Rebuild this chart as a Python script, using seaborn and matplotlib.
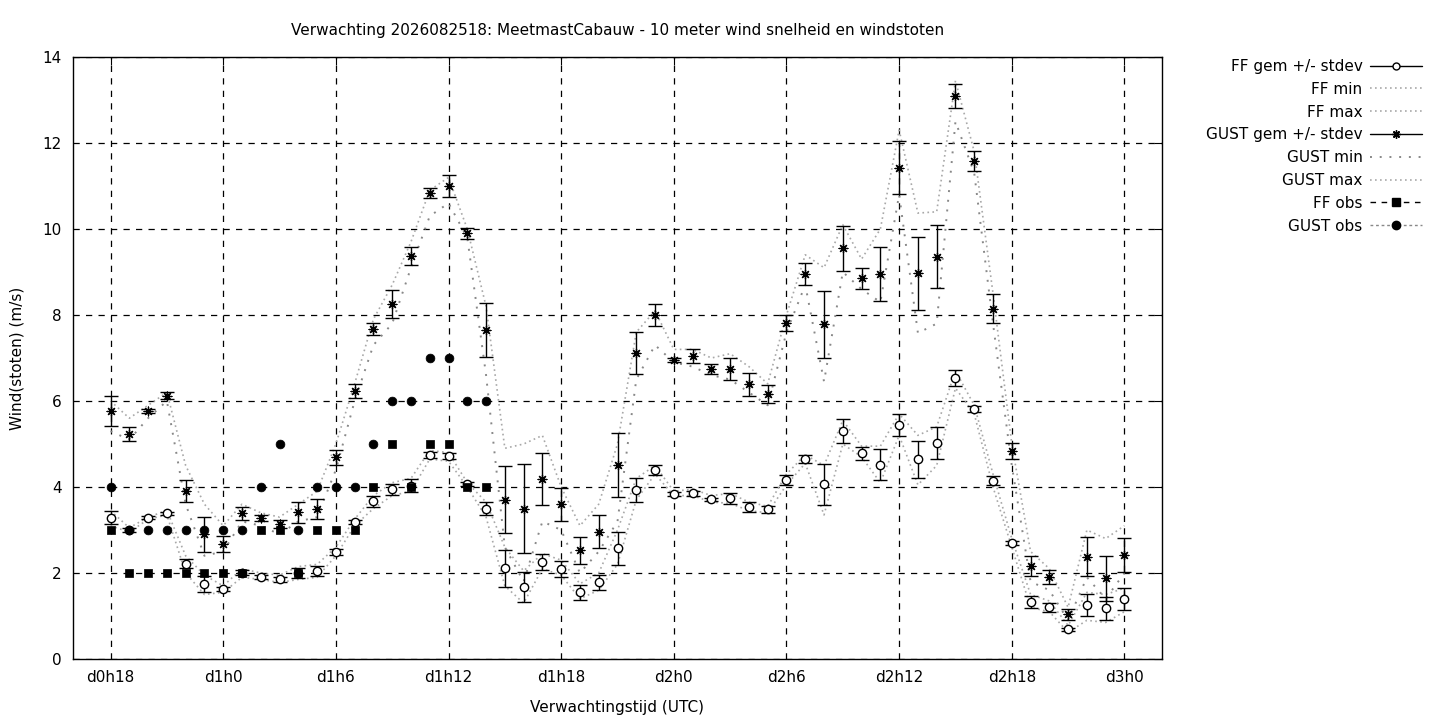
"""
Verwachting van wind snelheid en windstoten bij MeetmastCabauw,
nagetekend met seaborn / matplotlib.
"""

import matplotlib
matplotlib.use('Agg')
import matplotlib.pyplot as plt
from matplotlib.lines import Line2D
import seaborn as sns
import pandas as pd

# uren vanaf d0h0, elk uur van d0h18 tot d3h0
hours = list(range(18, 73))

ff_mean = [3.29, 3.0, 3.29, 3.39, 2.22, 1.74, 1.63, 2.01, 1.91, 1.85, 2.0,
           2.05, 2.49, 3.18, 3.67, 3.95, 4.03, 4.74, 4.72, 4.07, 3.50, 2.11,
           1.68, 2.25, 2.09, 1.55, 1.78, 2.57, 3.93, 4.40, 3.83, 3.85, 3.71,
           3.74, 3.54, 3.48, 4.16, 4.65, 4.06, 5.30, 4.78, 4.52, 5.44, 4.64,
           5.02, 6.53, 5.81, 4.15, 2.69, 1.33, 1.20, 0.69, 1.26, 1.18, 1.39]
ff_sd = [0.15, 0.05, 0.04, 0.04, 0.10, 0.18, 0.05, 0.06, 0.04, 0.05, 0.12,
         0.12, 0.06, 0.05, 0.13, 0.13, 0.15, 0.07, 0.07, 0.05, 0.14, 0.43,
         0.35, 0.19, 0.18, 0.17, 0.18, 0.39, 0.27, 0.12, 0.05, 0.05, 0.04,
         0.13, 0.12, 0.08, 0.12, 0.10, 0.48, 0.28, 0.15, 0.36, 0.26, 0.43,
         0.38, 0.18, 0.07, 0.10, 0.05, 0.14, 0.10, 0.04, 0.26, 0.27, 0.25]
ff_min = [3.10, 2.95, 3.25, 3.35, 2.00, 1.50, 1.55, 1.90, 1.85, 1.78, 1.85,
          1.90, 2.40, 3.10, 3.50, 3.80, 3.90, 4.65, 4.60, 4.00, 3.30, 1.70,
          1.30, 2.10, 1.95, 1.40, 1.60, 2.20, 3.70, 4.30, 3.80, 3.80, 3.65,
          3.62, 3.45, 3.40, 4.05, 4.55, 3.35, 5.00, 4.70, 4.10, 5.20, 4.05,
          4.50, 6.30, 5.70, 4.00, 2.60, 1.20, 1.10, 0.62, 0.90, 0.85, 1.10]
ff_max = [3.45, 3.05, 3.30, 3.45, 2.40, 1.95, 1.70, 2.10, 2.00, 1.95, 2.15,
          2.20, 2.60, 3.25, 3.80, 4.10, 4.20, 4.85, 4.80, 4.10, 3.65, 2.60,
          2.05, 2.45, 2.30, 1.75, 2.00, 3.00, 4.20, 4.50, 3.90, 3.95, 3.80,
          3.85, 3.65, 3.55, 4.30, 4.75, 4.50, 5.55, 4.95, 4.95, 5.70, 5.20,
          5.40, 6.70, 5.90, 4.30, 2.80, 1.50, 1.35, 0.78, 1.55, 1.50, 1.65]

gust_mean = [5.77, 5.23, 5.77, 6.12, 3.91, 2.90, 2.68, 3.39, 3.28, 3.14,
             3.41, 3.48, 4.69, 6.23, 7.67, 8.26, 9.37, 10.83, 11.0, 9.90,
             7.65, 3.70, 3.50, 4.19, 3.60, 2.53, 2.96, 4.51, 7.11, 8.00,
             6.95, 7.05, 6.74, 6.74, 6.39, 6.16, 7.81, 8.95, 7.78, 9.55,
             8.85, 8.95, 11.43, 8.97, 9.36, 13.09, 11.58, 8.15, 4.84, 2.16,
             1.90, 1.04, 2.38, 1.88, 2.42]
gust_sd = [0.35, 0.16, 0.05, 0.08, 0.26, 0.40, 0.18, 0.15, 0.08, 0.10, 0.25,
           0.23, 0.18, 0.17, 0.14, 0.33, 0.21, 0.12, 0.26, 0.13, 0.62, 0.78,
           1.03, 0.61, 0.38, 0.31, 0.39, 0.75, 0.49, 0.26, 0.05, 0.16, 0.12,
           0.26, 0.27, 0.21, 0.18, 0.25, 0.78, 0.52, 0.24, 0.62, 0.62, 0.85,
           0.74, 0.28, 0.23, 0.33, 0.18, 0.23, 0.16, 0.13, 0.45, 0.52, 0.40]
gust_min = [5.30, 5.10, 5.60, 6.00, 3.60, 2.40, 2.50, 3.20, 3.10, 2.90, 3.20,
            3.30, 4.40, 6.00, 7.30, 7.80, 9.10, 10.30, 10.60, 9.80, 6.60,
            2.60, 1.80, 3.20, 3.00, 2.00, 2.50, 3.20, 6.50, 7.30, 6.90, 6.80,
            6.60, 6.50, 6.20, 5.90, 7.60, 8.70, 6.45, 9.00, 8.60, 8.30,
            10.80, 7.58, 7.80, 12.50, 11.30, 7.80, 4.50, 1.80, 1.60, 0.90,
            1.90, 1.40, 2.00]
gust_max = [6.00, 5.60, 5.90, 6.20, 4.50, 3.60, 3.10, 3.60, 3.40, 3.30, 3.60,
            3.90, 5.00, 6.40, 7.90, 8.70, 9.70, 10.90, 11.20, 10.00, 8.20,
            4.90, 5.00, 5.20, 4.00, 3.10, 3.60, 5.00, 7.60, 8.10, 7.20, 7.20,
            7.00, 7.10, 6.80, 6.40, 8.00, 9.40, 9.10, 10.10, 9.30, 10.00,
            12.30, 10.37, 10.40, 13.45, 11.80, 8.50, 5.00, 2.50, 2.10, 1.20,
            3.00, 2.80, 3.10]

# waarnemingen, van d0h18 tot d1h14
obs_hours = list(range(18, 39))
ff_obs = [3, 2, 2, 2, 2, 2, 2, 2, 3, 3, 2, 3, 3, 3, 4, 5, 4, 5, 5, 4, 4]
gust_obs = [4, 3, 3, 3, 3, 3, 3, 3, 4, 5, 3, 4, 4, 4, 5, 6, 6, 7, 7, 6, 6]

tick_hours = [18, 24, 30, 36, 42, 48, 54, 60, 66, 72]
tick_labels = ['d0h18', 'd1h0', 'd1h6', 'd1h12', 'd1h18',
               'd2h0', 'd2h6', 'd2h12', 'd2h18', 'd3h0']

fc = pd.DataFrame({'uur': hours, 'ff_mean': ff_mean, 'ff_sd': ff_sd,
                   'ff_min': ff_min, 'ff_max': ff_max,
                   'gust_mean': gust_mean, 'gust_sd': gust_sd,
                   'gust_min': gust_min, 'gust_max': gust_max})
obs = pd.DataFrame({'uur': obs_hours, 'ff_obs': ff_obs,
                    'gust_obs': gust_obs})

sns.set_style('white')
plt.rcParams['font.family'] = ['DejaVu Sans']
plt.rcParams['font.size'] = 11
plt.rcParams['text.color'] = 'black'
plt.rcParams['axes.labelcolor'] = 'black'
plt.rcParams['xtick.color'] = 'black'
plt.rcParams['ytick.color'] = 'black'

fig = plt.figure(figsize=(14.4, 7.2), dpi=100)
ax = fig.add_axes([73 / 1440, 61 / 720, 1089 / 1440, 602 / 720])

GREY = '#a8a8a8'
dot_fine = (0, (1, 2))
dot_wide = (0, (1, 4))

# min / max lijnen
sns.lineplot(data=fc, x='uur', y='ff_min', ax=ax, color=GREY, lw=1.2,
             linestyle=dot_fine)
sns.lineplot(data=fc, x='uur', y='ff_max', ax=ax, color=GREY, lw=1.2,
             linestyle=dot_fine)
sns.lineplot(data=fc, x='uur', y='gust_min', ax=ax, color='#888888', lw=1.4,
             linestyle=dot_wide)
sns.lineplot(data=fc, x='uur', y='gust_max', ax=ax, color=GREY, lw=1.2,
             linestyle=dot_fine)

# gemiddelde +/- stdev
ax.errorbar(fc['uur'], fc['ff_mean'], yerr=fc['ff_sd'], fmt='o',
            mfc='white', mec='black', ms=6, mew=1, ecolor='black',
            elinewidth=1, capsize=5, capthick=1, zorder=4)
ax.errorbar(fc['uur'], fc['gust_mean'], yerr=fc['gust_sd'], fmt='none',
            ecolor='black', elinewidth=1, capsize=5, capthick=1, zorder=4)
sns.scatterplot(data=fc, x='uur', y='gust_mean', ax=ax, marker=(8, 2, 0),
                s=40, color='black', linewidth=0.9, zorder=5)

# waarnemingen
sns.scatterplot(data=obs, x='uur', y='ff_obs', ax=ax, marker='s', s=40,
                color='black', edgecolor='black', zorder=6)
sns.scatterplot(data=obs, x='uur', y='gust_obs', ax=ax, marker='o', s=40,
                color='black', edgecolor='black', zorder=6)

ax.set_xlim(16, 74)
ax.set_ylim(0, 14)
ax.set_xticks(tick_hours)
ax.set_xticklabels(tick_labels)
ax.set_yticks(range(0, 15, 2))
ax.grid(True, color='black', linestyle=(0, (5, 5)), linewidth=0.9)
ax.tick_params(direction='in', top=True, right=True, length=6,
               labelsize=11, pad=8)
for sp in ax.spines.values():
    sp.set_color('black')
    sp.set_linewidth(1)

ax.set_xlabel('Verwachtingstijd (UTC)', fontsize=11, labelpad=11)
ax.set_ylabel('Wind(stoten) (m/s)', fontsize=11, labelpad=13)
ax.set_title('Verwachting 2026082518: MeetmastCabauw - 10 meter wind '
             'snelheid en windstoten', fontsize=11, pad=16)

handles = [
    Line2D([], [], color='black', lw=1, marker='o', mfc='white', ms=5),
    Line2D([], [], color=GREY, lw=1.2, linestyle=dot_fine),
    Line2D([], [], color=GREY, lw=1.2, linestyle=dot_fine),
    Line2D([], [], color='black', lw=1, marker=(8, 2, 0), ms=6),
    Line2D([], [], color='#888888', lw=1.4, linestyle=dot_wide),
    Line2D([], [], color=GREY, lw=1.2, linestyle=dot_fine),
    Line2D([], [], color='black', lw=1, linestyle=(0, (4, 4)),
           marker='s', ms=6),
    Line2D([], [], color='#888888', lw=1, linestyle=(0, (2, 2)),
           marker='o', ms=6, mfc='black', mec='black'),
]
labels = ['FF gem +/- stdev', 'FF min', 'FF max', 'GUST gem +/- stdev',
          'GUST min', 'GUST max', 'FF obs', 'GUST obs']
fig.legend(handles, labels, loc='upper right',
           bbox_to_anchor=(1422 / 1440, 1 - 59 / 720),
           frameon=False, markerfirst=False, fontsize=11, handlelength=3.4,
           labelspacing=0.51, handletextpad=0.5, borderpad=0,
           borderaxespad=0)

fig.savefig('out.png', dpi=100)
